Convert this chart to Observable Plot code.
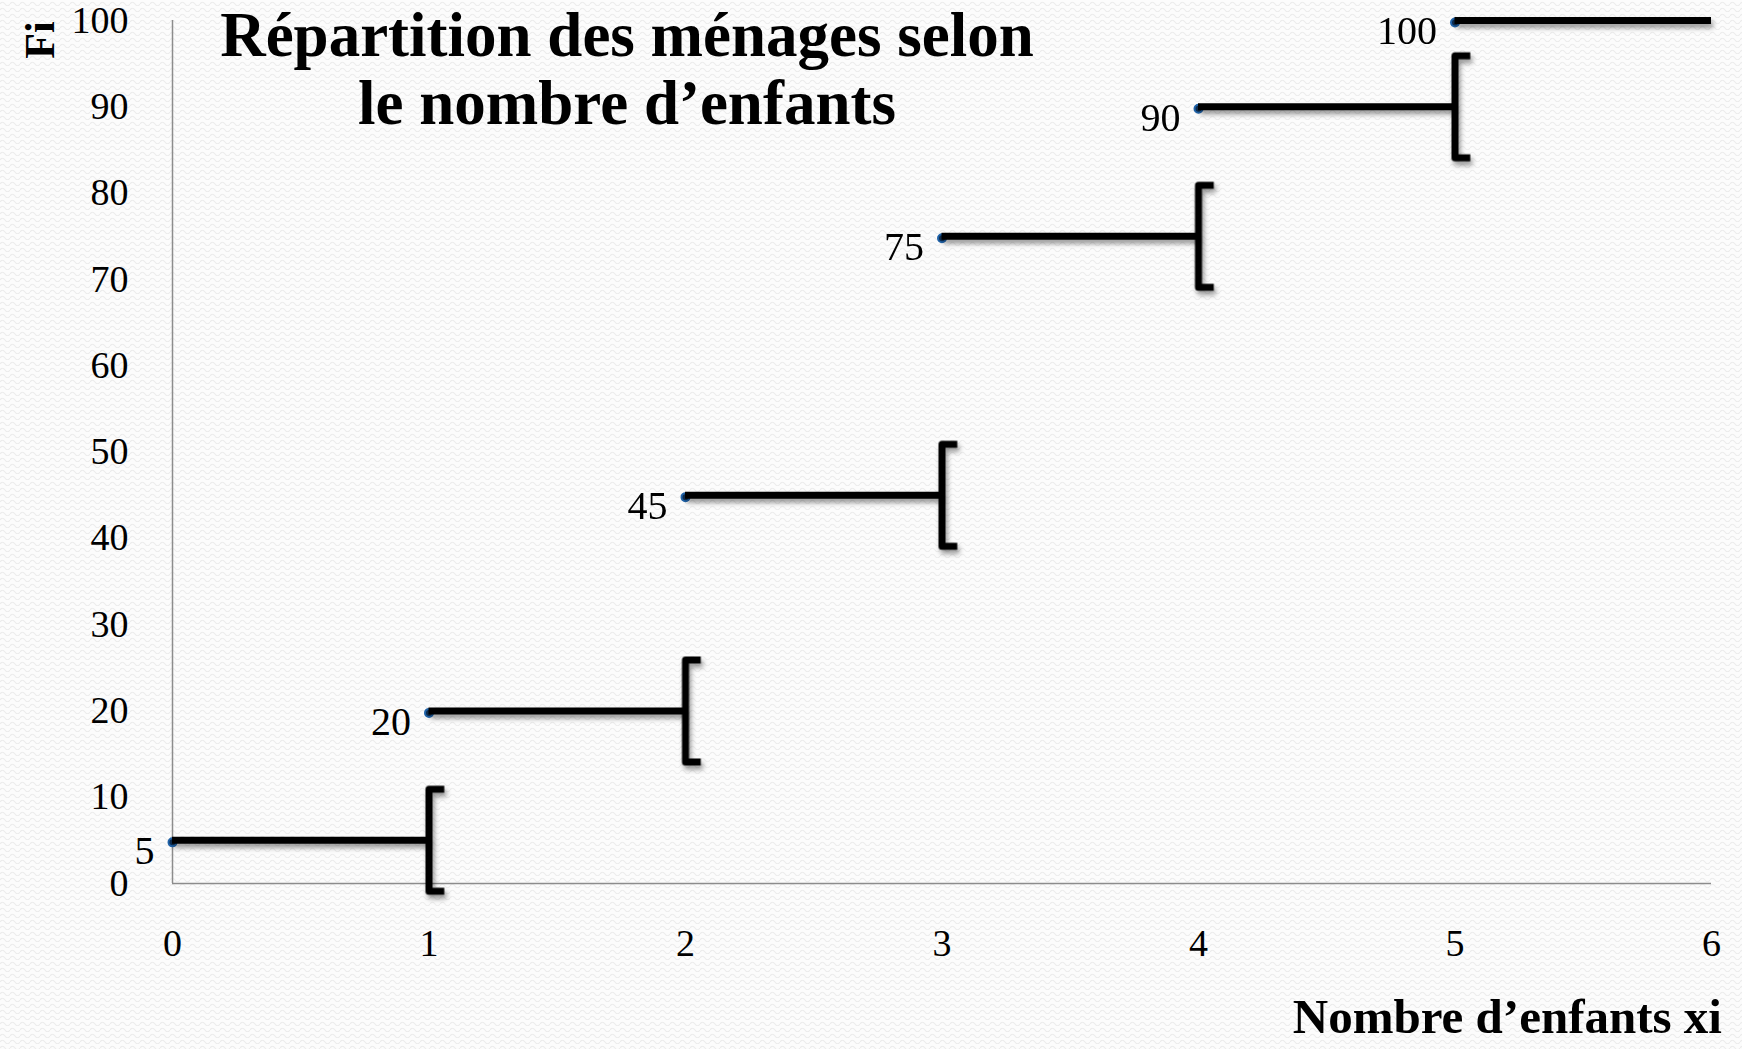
<!DOCTYPE html>
<html>
<head>
<meta charset="utf-8">
<script src="https://cdn.jsdelivr.net/npm/d3@7"></script>
<script src="https://cdn.jsdelivr.net/npm/@observablehq/plot@0.6"></script>
<style>
  html, body { margin: 0; padding: 0; }
  body {
    width: 1742px; height: 1049px; position: relative; overflow: hidden;
    background-color: #fcfcfc;
    background-image: url("data:image/svg+xml,%3Csvg xmlns='http://www.w3.org/2000/svg' width='10' height='6'%3E%3Cpath d='M0 4 Q2.5 0.5 5 4 T10 4' fill='none' stroke='%23ececec' stroke-width='1.2'/%3E%3C/svg%3E");
    font-family: "Liberation Serif", "DejaVu Serif", serif;
  }
  #chart { position: absolute; left: 0; top: 0; }
  .title {
    position: absolute; left: 627px; top: 1px; transform: translateX(-50%);
    text-align: center; font-weight: bold; font-size: 63px; line-height: 68px;
    white-space: nowrap; color: #000;
  }
  .ylab {
    position: absolute; left: 40px; top: 40px; transform: translate(-50%, -50%) rotate(-90deg);
    font-weight: bold; font-size: 42px; line-height: 42px; color: #000;
  }
  .xlab {
    position: absolute; right: 20px; top: 994px;
    font-weight: bold; font-size: 49px; line-height: 46px; color: #000; white-space: nowrap;
  }
</style>
</head>
<body>
<div id="chart"></div>
<div class="title">Répartition des ménages selon<br>le nombre d’enfants</div>
<div class="ylab">Fi</div>
<div class="xlab">Nombre d’enfants xi</div>
<script>
// Data
const xi = [0, 1, 2, 3, 4, 5];
const xiNext = [1, 2, 3, 4, 5, 6];
const Fi = [5, 20, 45, 75, 90, 100];
const yTicks = [0, 10, 20, 30, 40, 50, 60, 70, 80, 90, 100];
const xTicks = [0, 1, 2, 3, 4, 5, 6];

const steps = xi.map((x, i) => ({x, x2: xiNext[i], F: Fi[i], label: String(Fi[i])}));
const brackets = steps.filter(d => d.x2 < 6);

// "[" shaped symbol for the open ends
const bracketSymbol = {
  draw(context, size) {
    const s = Math.sqrt(size / Math.PI);
    context.moveTo(s * 0.3, -s);
    context.lineTo(0, -s);
    context.lineTo(0, s);
    context.lineTo(s * 0.3, s);
  }
};

const plot = Plot.plot({
  width: 1742,
  height: 1049,
  marginLeft: 172,
  marginRight: 31,
  marginTop: 20,
  marginBottom: 166,
  style: {background: "transparent", fontSize: "38px", fontFamily: "'Liberation Serif', 'DejaVu Serif', serif", color: "#000", overflow: "visible"},
  x: {domain: [0, 6], ticks: xTicks, tickSize: 0, tickPadding: 46, label: null, tickFormat: d => String(d)},
  y: {domain: [0, 100], ticks: yTicks, tickSize: 0, tickPadding: 44, label: null, tickFormat: d => String(d)},
  marks: [
    Plot.ruleX([0], {stroke: "#8c8c8c", strokeWidth: 1.5}),
    Plot.ruleY([0], {stroke: "#8c8c8c", strokeWidth: 1.5}),
    Plot.dot(steps, {x: "x", y: "F", r: 4, fill: "#0d2c4f", stroke: "#1f62a8", strokeWidth: 2, dy: 2}),
    Plot.ruleY(steps, {y: "F", x1: "x", x2: "x2", stroke: "#000", strokeWidth: 7}),
    Plot.dot(brackets, {x: "x2", y: "F", r: 51, symbol: bracketSymbol, fill: "none", stroke: "#000", strokeWidth: 7, strokeLinejoin: "round", strokeLinecap: "butt"}),
    Plot.text(steps, {x: "x", y: "F", text: "label", textAnchor: "end", dx: -18, dy: 11, fontSize: 40, fill: "#000"})
  ]
});

// drop shadow under the steps and brackets
const svg = plot.tagName.toLowerCase() === "svg" ? plot : plot.querySelector("svg");
const ns = "http://www.w3.org/2000/svg";
const defs = document.createElementNS(ns, "defs");
defs.innerHTML = '<filter id="shadow" filterUnits="userSpaceOnUse" x="0" y="0" width="1742" height="1049"><feDropShadow dx="2" dy="4" stdDeviation="2.5" flood-color="#000" flood-opacity="0.4"/></filter>';
svg.insertBefore(defs, svg.firstChild);
svg.querySelectorAll('g[stroke-width="7"]').forEach(g => g.setAttribute("filter", "url(#shadow)"));

document.getElementById("chart").appendChild(plot);
</script>
</body>
</html>
